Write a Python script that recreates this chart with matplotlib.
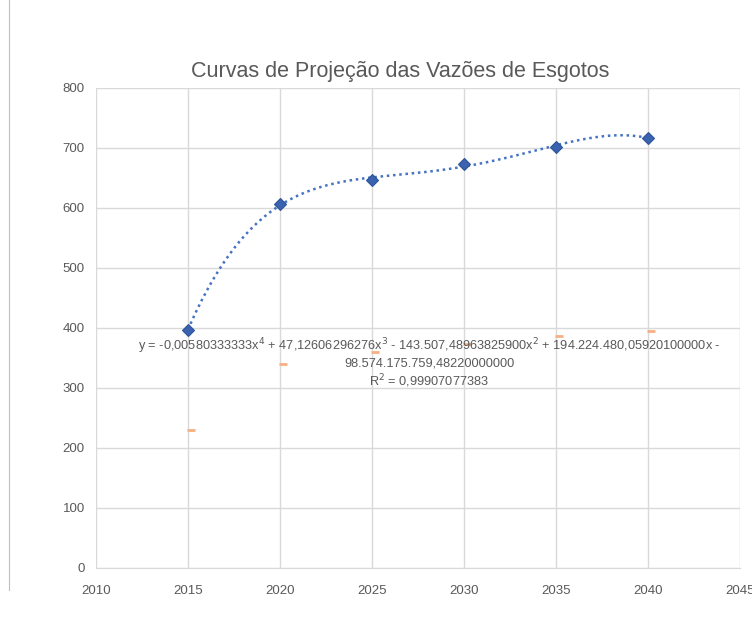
import numpy as np
import matplotlib.pyplot as plt
from matplotlib.lines import Line2D

plt.rcParams["font.family"] = ["Liberation Sans", "DejaVu Sans"]

# dados
anos = [2015, 2020, 2025, 2030, 2035, 2040]
vazoes = [397, 607, 646, 674, 702, 717]
vazoes_min = [230, 340, 360, 374, 387, 395]

xticks = [2010, 2015, 2020, 2025, 2030, 2035, 2040, 2045]
yticks = [0, 100, 200, 300, 400, 500, 600, 700, 800]

titulo = "Curvas de Projeção das Vazões de Esgotos"
equacao = ("y = -0,00580333333x$^4$ + 47,12606296276x$^3$ - 143.507,48963825900x$^2$ "
           "+ 194.224.480,05920100000x -\n98.574.175.759,48220000000\n"
           "R$^2$ = 0,99907077383")

COR_TXT = "#595959"
COR_GRID = "#d9d9d9"
COR_AZUL = "#4472C4"
COR_LARANJA = "#F4B183"

fig = plt.figure(figsize=(7.52, 6.17), dpi=100)
ax = fig.add_axes([96 / 752, 49 / 617, 644 / 752, 480 / 617])

# linha de tendência polinomial (ordem 4)
x = np.array(anos, dtype=float)
coef = np.polyfit(x - 2015, vazoes, 4)
xs = np.linspace(2015, 2040, 300)
ax.plot(xs, np.polyval(coef, xs - 2015), color=COR_AZUL, linestyle=(0, (1, 1.5)),
        linewidth=1.8, zorder=3)

ax.plot(anos, vazoes, linestyle="none", marker="D", markersize=6,
        color="#3A62B0", markeredgecolor="#2F5597", markeredgewidth=0.8, zorder=4)
ax.plot(np.array(anos) + 0.15, vazoes_min, linestyle="none", marker="_",
        markersize=6, markeredgewidth=2, color=COR_LARANJA, zorder=4)

ax.text(2028.1, 386, equacao, ha="center", va="top", fontsize=9.2,
        color=COR_TXT, linespacing=1.2, zorder=5)

ax.set_xlim(2010, 2045)
ax.set_ylim(0, 800)
ax.set_xticks(xticks)
ax.set_yticks(yticks)
ax.grid(True, color=COR_GRID, linewidth=1)
ax.set_axisbelow(True)
for s in ["top", "right", "left"]:
    ax.spines[s].set_visible(False)
ax.spines["bottom"].set_color(COR_GRID)
ax.tick_params(length=0, colors=COR_TXT, labelsize=9.5)
ax.tick_params(axis="x", pad=12)
ax.tick_params(axis="y", pad=8)

fig.text(400 / 752, 545 / 617, titulo, ha="center",
         va="center", fontsize=15.5, color=COR_TXT)

# borda esquerda da área do gráfico
fig.add_artist(Line2D([8.5 / 752, 8.5 / 752], [1, 27 / 617], color="#bfbfbf",
                      linewidth=0.8, transform=fig.transFigure))

fig.savefig("out.png", dpi=100)
